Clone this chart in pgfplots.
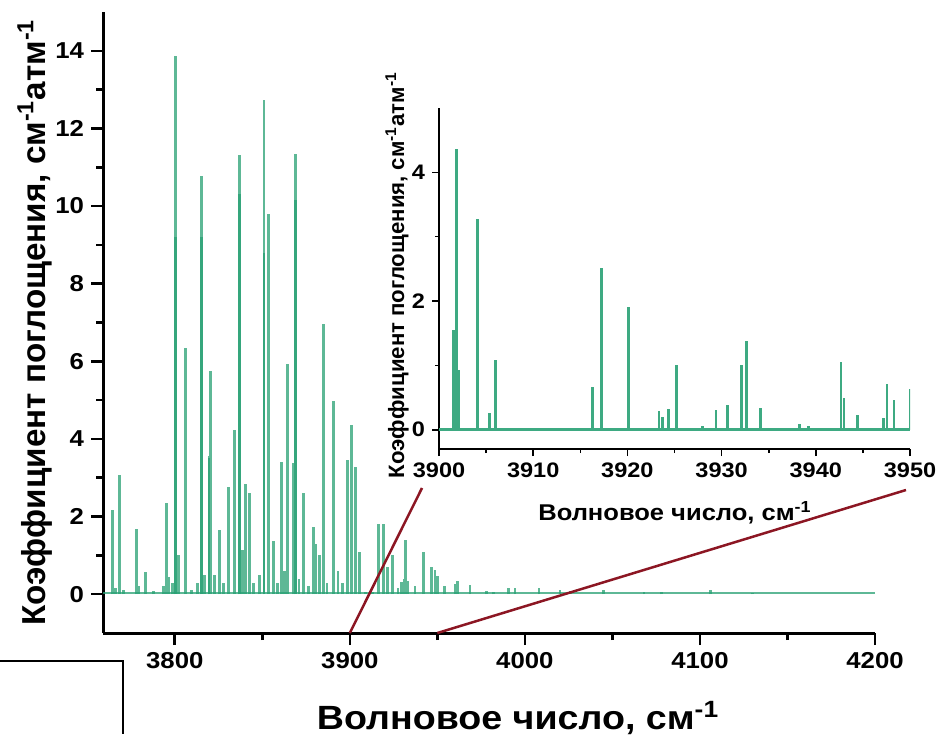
\documentclass[border=0pt]{standalone}
\usepackage{fontspec}
\setmainfont{Liberation Sans}[FakeStretch=1.12]
\newfontfamily\plainsans{Liberation Sans}
\usepackage{pgfplots}
\pgfplotsset{compat=1.18}

\definecolor{spec}{RGB}{40,160,115}
\definecolor{ins}{RGB}{62,170,130}
\definecolor{zoomred}{RGB}{140,22,35}

% main spectrum: line positions and heights
\pgfplotstableread{
x h
3764.4 2.18
3766.2 0.15
3768.6 3.06
3770.5 0.12
3778.1 1.67
3779.5 0.2
3783.2 0.57
3788.0 0.08
3793.5 0.2
3795.2 2.34
3796.3 0.45
3798.6 0.3
3800.3 13.87
3802.0 1.0
3806.1 6.35
3809.5 0.1
3813.0 0.3
3815.2 10.77
3817.0 0.5
3819.6 3.56
3820.6 5.75
3822.6 0.5
3825.7 1.66
3828.0 0.3
3830.7 2.76
3833.9 4.23
3836.8 11.31
3838.7 1.14
3840.2 2.83
3842.9 2.60
3845.0 0.3
3848.6 0.49
3851.0 12.72
3853.5 9.80
3856.2 1.37
3858.6 0.3
3861.0 3.41
3862.6 0.6
3864.2 5.94
3867.6 3.37
3869.1 11.33
3871.0 0.4
3873.5 2.6
3876.5 0.2
3879.4 1.72
3880.6 1.3
3882.5 1.0
3884.8 6.97
3887.0 0.3
3890.5 4.98
3893.2 0.6
3896.0 0.3
3898.5 3.45
3901.1 4.35
3903.4 3.27
3905.3 1.09
3909.0 0.05
3913.0 0.05
3916.4 1.80
3919.4 1.80
3921.3 0.69
3924.4 1.02
3927.5 0.15
3929.5 0.31
3931.0 0.4
3932.0 1.40
3932.8 0.35
3937.2 0.2
3942.3 1.08
3946.7 0.70
3948.6 0.63
3950.0 0.48
3954.0 0.2
3960.5 0.26
3961.5 0.34
3968.6 0.24
3978.0 0.08
3982.0 0.06
3990.5 0.15
3994.3 0.16
4008.0 0.15
4020.0 0.1
4026.0 0.08
4045.0 0.12
4068.0 0.05
4078.0 0.05
4106.0 0.1
4130.0 0.03
}\mainpeaks

% overlapping lines (darker parts of the tallest peaks)
\pgfplotstableread{
x h
3800.3 9.2
3815.2 9.2
3819.6 3.5
3836.8 10.3
3851.0 8.8
3869.1 10.15
}\overlap

% inset 3900-3950
\pgfplotstableread{
x h
3901.52 1.55
3901.84 4.36
3902.12 0.93
3904.10 3.27
3905.34 0.26
3906.00 1.09
3912.70 0.03
3914.00 0.03
3916.30 0.67
3917.27 2.52
3920.10 1.91
3923.35 0.29
3923.70 0.19
3924.40 0.32
3925.20 1.00
3928.00 0.05
3929.40 0.31
3930.60 0.39
3932.10 1.00
3932.60 1.38
3934.15 0.33
3935.10 0.02
3938.30 0.09
3939.20 0.06
3940.60 0.03
3942.67 1.05
3943.00 0.49
3944.45 0.23
3947.16 0.18
3947.55 0.71
3948.30 0.46
3950.00 0.64
}\insetpeaks

\begin{document}
\begin{tikzpicture}
\useasboundingbox (0pt,0pt) rectangle (470pt,367pt);

\begin{axis}[
  name=main, at={(51.5pt,50.5pt)}, anchor=south west, scale only axis,
  width=386pt, height=310.5pt,
  xmin=3759, xmax=4200, ymin=-1, ymax=15,
  axis x line*=bottom, axis y line*=left,
  axis line style={line width=1.5pt},
  xtick={3800,3900,4000,4100,4200}, ytick={0,2,4,6,8,10,12,14},
  minor x tick num=1, minor y tick num=1,
  tick align=outside,
  major tick length=6pt, minor tick length=3.5pt,
  every tick/.style={black, line width=1.3pt},
  tick label style={font=\fontsize{11.5}{12}\selectfont\bfseries},
  /pgf/number format/assume math mode=true,
  /pgf/number format/set thousands separator={},
  xlabel={Волновое число, см\textsuperscript{-1}},
  ylabel={Коэффициент поглощения, см\textsuperscript{-1}атм\textsuperscript{-1}},
  x label style={font=\fontsize{16.8}{18}\selectfont\bfseries,
    at={(axis description cs:0.5376,-0.137)}, anchor=center},
  y label style={font=\plainsans\fontsize{16.6}{18}\selectfont\bfseries,
    at={(axis description cs:-0.088,0.50)}, anchor=center},
]
\addplot[spec, opacity=0.75, line width=1.4pt] coordinates {(3759,0.03) (4200,0.03)};
\addplot[ycomb, spec, opacity=0.75, line width=1.4pt, no marks] table[x=x, y=h] {\mainpeaks};
\addplot[ycomb, spec, opacity=0.75, line width=1.4pt, no marks] table[x=x, y=h] {\overlap};
\coordinate (z1) at (axis cs:3900,-1);
\coordinate (z2) at (axis cs:3950,-1);
\end{axis}

\begin{axis}[
  name=inset, at={(219.5pt,142.5pt)}, anchor=south west, scale only axis,
  width=235.5pt, height=170.5pt,
  xmin=3900, xmax=3950, ymin=-0.3, ymax=5,
  axis x line*=bottom, axis y line*=left,
  axis line style={line width=0.8pt},
  xtick={3900,3910,3920,3930,3940,3950}, ytick={0,2,4},
  minor x tick num=1, minor y tick num=1,
  tick align=outside,
  major tick length=3.5pt, minor tick length=2pt,
  every tick/.style={black, line width=0.8pt},
  tick label style={font=\fontsize{10.5}{11}\selectfont\bfseries},
  /pgf/number format/assume math mode=true,
  /pgf/number format/set thousands separator={},
  xlabel={Волновое число, см\textsuperscript{-1}},
  ylabel={Коэффициент поглощения, см\textsuperscript{-1}атм\textsuperscript{-1}},
  x label style={font=\fontsize{11.4}{12}\selectfont\bfseries,
    at={(axis description cs:0.501,-0.188)}, anchor=center},
  y label style={font=\plainsans\fontsize{11.1}{12}\selectfont\bfseries,
    at={(axis description cs:-0.089,0.51)}, anchor=center},
]
\addplot[ins, line width=1.4pt] coordinates {(3900,0) (3950,0)};
\addplot[ycomb, ins, line width=1.4pt, no marks] table[x=x, y=h] {\insetpeaks};
\end{axis}

\draw[zoomred, line width=1.25pt] (z1) -- (211pt,123pt);
\draw[zoomred, line width=1.25pt] (z2) -- (453pt,122pt);
\draw[line width=1pt] (0pt,36.5pt) -- (61.5pt,36.5pt) -- (61.5pt,0pt);
\end{tikzpicture}
\end{document}
